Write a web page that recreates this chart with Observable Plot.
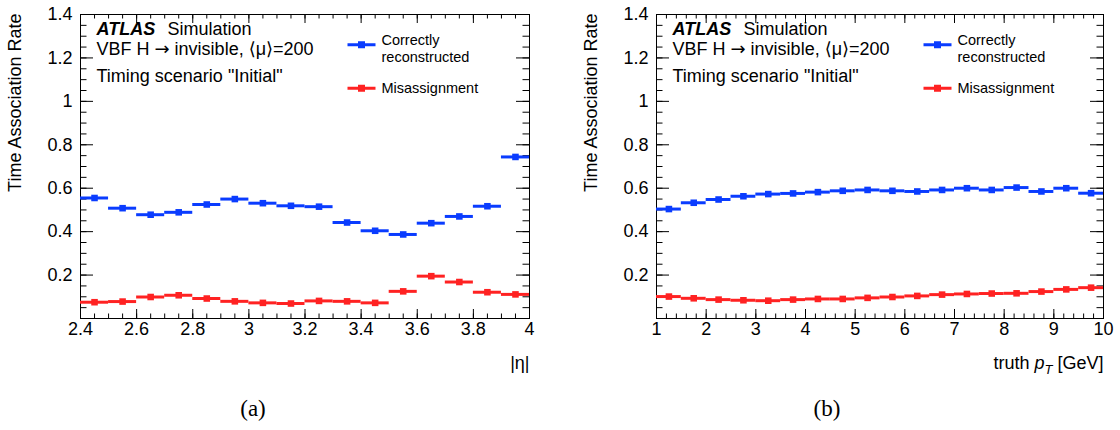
<!DOCTYPE html>
<html>
<head>
<meta charset="utf-8">
<script src="https://cdn.jsdelivr.net/npm/d3@7"></script>
<script src="https://cdn.jsdelivr.net/npm/@observablehq/plot@0.6"></script>
<style>
  body { margin: 0; background: #fff; }
  #fig { position: relative; width: 1120px; height: 430px; overflow: hidden; }
  .panel { position: absolute; top: 0; width: 560px; height: 380px; }
  .cap { position: absolute; top: 396px; width: 120px; height: 28px; line-height: 28px;
         text-align: center; font: 23px "Liberation Serif", "DejaVu Serif", serif; color: #000; }
</style>
</head>
<body>
<div id="fig"></div>
<script>
// |eta| bins (edges) and time-association rates per bin
const etaEdges = [2.4, 2.5, 2.6, 2.7, 2.8, 2.9, 3.0, 3.1, 3.2, 3.3, 3.4, 3.5, 3.6, 3.7, 3.8, 3.9, 4.0];
const etaCorrect = [0.555, 0.508, 0.478, 0.489, 0.525, 0.550, 0.531, 0.519, 0.515, 0.442, 0.404, 0.387, 0.439, 0.470, 0.517, 0.744];
const etaMisassigned = [0.075, 0.078, 0.099, 0.107, 0.092, 0.079, 0.072, 0.069, 0.081, 0.079, 0.072, 0.125, 0.195, 0.168, 0.121, 0.111];

// truth pT bins (edges, GeV) and rates per bin
const ptEdges = [1, 1.5, 2, 2.5, 3, 3.5, 4, 4.5, 5, 5.5, 6, 6.5, 7, 7.5, 8, 8.5, 9, 9.5, 10];
const ptCorrect = [0.504, 0.533, 0.548, 0.563, 0.573, 0.576, 0.582, 0.588, 0.592, 0.588, 0.585, 0.592, 0.600, 0.592, 0.603, 0.585, 0.600, 0.577];
const ptMisassigned = [0.101, 0.093, 0.087, 0.084, 0.082, 0.087, 0.090, 0.090, 0.095, 0.099, 0.104, 0.110, 0.113, 0.115, 0.116, 0.124, 0.134, 0.142];

// axis tick labels
const etaTicks = [2.4, 2.6, 2.8, 3, 3.2, 3.4, 3.6, 3.8, 4];
const ptTicks = [1, 2, 3, 4, 5, 6, 7, 8, 9, 10];
const rateTicks = [0.2, 0.4, 0.6, 0.8, 1, 1.2, 1.4];

// texts
const yTitle = "Time Association Rate";
const experiment = "ATLAS";
const status = "Simulation";
const infoLines = ["VBF H \u2192 invisible, \u27E8\u03BC\u27E9=200", "Timing scenario \"Initial\""];
const seriesNames = ["Correctly\nreconstructed", "Misassignment"];
const captions = ["(a)", "(b)"];

const BLUE = "#0a3cff";
const RED = "#ff2222";
const FONT = "'Liberation Sans', Arial, Helvetica, sans-serif";
const SYMBOL_FONT = "'DejaVu Sans', sans-serif";

function binRows(edges, values) {
  return values.map((v, i) => ({lo: edges[i], hi: edges[i + 1], mid: (edges[i] + edges[i + 1]) / 2, v}));
}

// legend swatch: a short horizontal line with a square marker
const swatch = {
  draw(ctx) {
    ctx.rect(-14, -1.5, 28, 3);
    ctx.rect(-3.5, -3.5, 7, 7);
  }
};

function panel({edges, correct, mis, ticks, minorTicks, xTitle, marginLeft, marginRight}) {
  const W = 560, H = 380, mt = 14, mb = 62;
  const iw = W - marginLeft - marginRight, ih = H - mt - mb;
  const rowsC = binRows(edges, correct);
  const rowsM = binRows(edges, mis);
  const yMinor = d3.ticks(0, 1.4, 28);
  const series = (rows, color) => [
    Plot.ruleY(rows, {x1: "lo", x2: "hi", y: "v", stroke: color, strokeWidth: 3}),
    Plot.dot(rows, {x: "mid", y: "v", symbol: "square", fill: color, r: 3.7})
  ];
  const tl = {frameAnchor: "top-left", lineAnchor: "top", textAnchor: "start"};
  return Plot.plot({
    width: W, height: H,
    marginTop: mt, marginBottom: mb, marginLeft, marginRight,
    style: {fontFamily: FONT, fontSize: "18px", color: "#000", background: "#fff", overflow: "visible"},
    x: {domain: [edges[0], edges[edges.length - 1]]},
    y: {domain: [0, 1.4]},
    marks: [
      // inward ticks on all four sides
      Plot.ruleX(minorTicks, {insetTop: ih - 4.5, stroke: "#000"}),
      Plot.ruleX(minorTicks, {insetBottom: ih - 4.5, stroke: "#000"}),
      Plot.ruleX(ticks, {insetTop: ih - 9, stroke: "#000"}),
      Plot.ruleX(ticks, {insetBottom: ih - 9, stroke: "#000"}),
      Plot.ruleY(yMinor, {insetRight: iw - 6.5, stroke: "#000"}),
      Plot.ruleY(yMinor, {insetLeft: iw - 6.5, stroke: "#000"}),
      Plot.ruleY(rateTicks, {insetRight: iw - 13, stroke: "#000"}),
      Plot.ruleY(rateTicks, {insetLeft: iw - 13, stroke: "#000"}),
      Plot.axisX({ticks, tickSize: 0, tickPadding: 4, label: null, fontSize: 18, tickFormat: d => String(d)}),
      Plot.axisY({ticks: rateTicks, tickSize: 0, tickPadding: 8, label: null, fontSize: 18, tickFormat: d => String(d)}),
      Plot.frame({stroke: "#000"}),
      ...series(rowsC, BLUE),
      ...series(rowsM, RED),
      // labels inside the frame
      Plot.text([experiment], {...tl, dx: 16, dy: 7.5, fontSize: 18, fontWeight: "bold", fontStyle: "italic"}),
      Plot.text([status], {...tl, dx: 87, dy: 7.5, fontSize: 18}),
      Plot.text([infoLines[0]], {...tl, dx: 16, dy: 28.2, fontSize: 18}),
      Plot.text([infoLines[1]], {...tl, dx: 16, dy: 54.9, fontSize: 18}),
      // legend
      Plot.dot([0], {frameAnchor: "top-left", dx: 281, dy: 30.3, symbol: swatch, fill: BLUE, r: 1}),
      Plot.dot([0], {frameAnchor: "top-left", dx: 281, dy: 73.7, symbol: swatch, fill: RED, r: 1}),
      Plot.text([seriesNames[0]], {...tl, dx: 301, dy: 18.8, fontSize: 14.5, lineHeight: 1.15}),
      Plot.text([seriesNames[1]], {...tl, dx: 301, dy: 67.8, fontSize: 14.5}),
      // axis titles
      Plot.text([yTitle], {frameAnchor: "top-left", rotate: -90, textAnchor: "end", lineAnchor: "middle", dx: -65, dy: -1, fontSize: 18}),
      Plot.text([xTitle], {frameAnchor: "bottom-right", textAnchor: "end", lineAnchor: "middle", dy: 45, fontSize: 18})
    ]
  });
}

const fig = document.getElementById("fig");

const left = panel({
  edges: etaEdges, correct: etaCorrect, mis: etaMisassigned,
  ticks: etaTicks, minorTicks: d3.ticks(2.4, 4, 32),
  xTitle: "|\u03B7|", marginLeft: 80, marginRight: 31
});
const right = panel({
  edges: ptEdges, correct: ptCorrect, mis: ptMisassigned,
  ticks: ptTicks, minorTicks: d3.ticks(1, 10, 45),
  xTitle: "truth pT [GeV]", marginLeft: 96, marginRight: 17
});

[left, right].forEach((svg, i) => {
  const wrap = document.createElement("div");
  wrap.className = "panel";
  wrap.style.left = (i * 560) + "px";
  wrap.appendChild(svg);
  fig.appendChild(wrap);
  const cap = document.createElement("div");
  cap.className = "cap";
  cap.style.left = (i === 0 ? 193 : 767) + "px";
  cap.textContent = captions[i];
  fig.appendChild(cap);
});

const ns = "http://www.w3.org/2000/svg";
function findText(svg, content) {
  return [...svg.querySelectorAll("text")].find(e => e.textContent === content);
}
function rebuild(el, parts) {
  el.textContent = "";
  for (const p of parts) {
    const s = document.createElementNS(ns, "tspan");
    s.textContent = p.t;
    if (p.italic) s.setAttribute("font-style", "italic");
    if (p.size) s.setAttribute("font-size", p.size);
    if (p.family) s.setAttribute("font-family", p.family);
    if (p.dy) s.setAttribute("dy", p.dy);
    el.appendChild(s);
  }
}

// italic p with subscript T in the pT axis title
const ptTitle = findText(right, "truth pT [GeV]");
if (ptTitle) {
  rebuild(ptTitle, [
    {t: "truth "},
    {t: "p", italic: true},
    {t: "T", italic: true, size: 13, dy: 5},
    {t: " [GeV]", dy: -5}
  ]);
}

// arrow and angle brackets set in a font with full-size math glyphs
for (const svg of [left, right]) {
  const line = findText(svg, infoLines[0]);
  if (line) {
    rebuild(line, [
      {t: "VBF H "},
      {t: "\u2192", family: SYMBOL_FONT},
      {t: " invisible, "},
      {t: "\u27E8", family: SYMBOL_FONT},
      {t: "\u03BC"},
      {t: "\u27E9", family: SYMBOL_FONT},
      {t: "=200"}
    ]);
  }
}
</script>
</body>
</html>
